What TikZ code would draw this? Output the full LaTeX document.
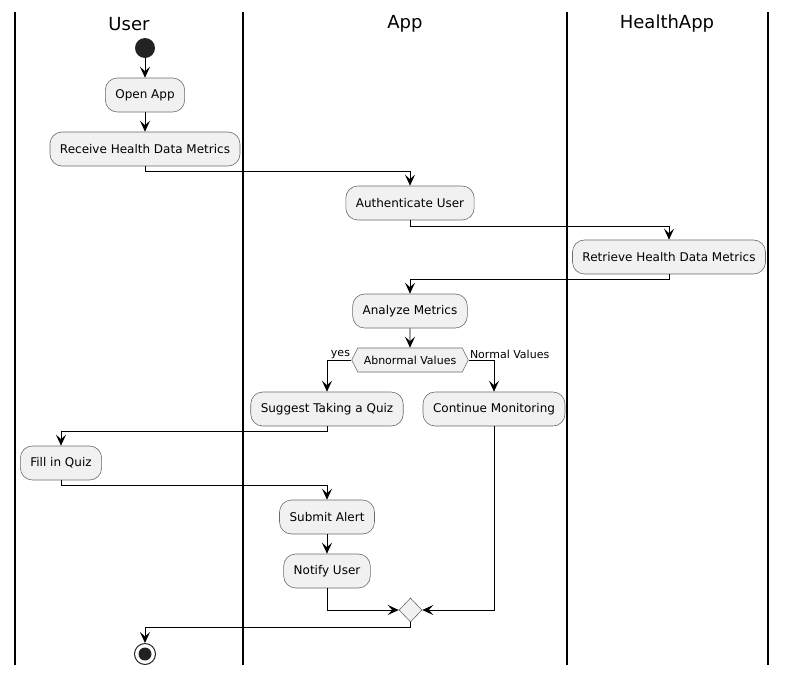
\documentclass[tikz,border=0pt]{standalone}
\usepackage{fontspec}
\setmainfont{DejaVu Sans}
\usetikzlibrary{arrows.meta, shapes.geometric, shapes.symbols}

\definecolor{boxfill}{HTML}{F1F1F1}
\definecolor{boxline}{HTML}{6A6A6A}
\definecolor{dotfill}{HTML}{222222}

\begin{document}
\begin{tikzpicture}[x=1pt, y=-1pt,
    activity/.style={rectangle, rounded corners=12pt, draw=boxline, line width=0.6pt, fill=boxfill,
      minimum height=34pt, inner xsep=10pt, font=\fontsize{12}{14}\selectfont},
    decision/.style={signal, signal to=east and west, signal pointer angle=127, draw=boxline, line width=0.6pt,
      fill=boxfill, minimum height=24pt, inner xsep=6pt, inner ysep=0pt, font=\fontsize{11}{13}\selectfont},
    merge/.style={diamond, draw=boxline, line width=0.6pt, fill=boxfill, inner sep=0pt, minimum width=23pt, minimum height=24pt},
    flow/.style={line width=0.9pt, -{Stealth[length=11pt, width=10pt, inset=4.5pt]}},
    lane/.style={line width=1.5pt},
    lanetitle/.style={font=\fontsize{18}{21}\selectfont},
    guard/.style={font=\fontsize{11}{13}\selectfont, inner sep=1pt}]
  \useasboundingbox (0,0) rectangle (787,675);

  % swimlanes
  \draw[lane] (15,12) -- (15,665);
  \draw[lane] (243,12) -- (243,665);
  \draw[lane] (567,12) -- (567,665);
  \draw[lane] (768,12) -- (768,665);
  \node[lanetitle] (usertitle) at (129,24) {User};
  \node[lanetitle] (apptitle) at (405,24) {App};
  \node[lanetitle] (healthtitle) at (667,24) {HealthApp};

  % nodes
  \node[circle, fill=dotfill, minimum size=20pt, inner sep=0pt] (start) at (145,48) {};
  \node[activity] (open) at (145,95) {Open App};
  \node[activity] (receive) at (145,149) {Receive Health Data Metrics};
  \node[activity] (auth) at (410,203) {Authenticate User};
  \node[activity] (retrieve) at (669,257) {Retrieve Health Data Metrics};
  \node[activity] (analyze) at (410,311) {Analyze Metrics};
  \node[decision] (abnormal) at (410,360) {Abnormal Values};
  \node[activity] (suggest) at (327,409) {Suggest Taking a Quiz};
  \node[activity] (monitor) at (494,409) {Continue Monitoring};
  \node[activity] (quiz) at (61,463) {Fill in Quiz};
  \node[activity] (submit) at (327,517) {Submit Alert};
  \node[activity] (notify) at (327,571) {Notify User};
  \node[merge] (join) at (410.5,610) {};
  \node[circle, draw=dotfill, line width=1pt, minimum size=21pt, inner sep=0pt] (stop) at (145,654) {};
  \fill[dotfill] (stop.center) circle (6.5pt);

  % connectors
  \draw[flow] (start) -- (open);
  \draw[flow] (open) -- (receive);
  \draw[flow] (receive.south) -- ++(0,5) -| (auth.north);
  \draw[flow] (auth.south) -- ++(0,6) -| (retrieve.north);
  \draw[flow] (retrieve.south) -- ++(0,5) -| (analyze.north);
  \draw[flow] (analyze) -- (abnormal);
  \draw[flow] (abnormal.west) node[guard, anchor=south east] {yes} -| (suggest.north);
  \draw[flow] (abnormal.east) node[guard, anchor=south west] {Normal Values} -| (monitor.north);
  \draw[flow] (suggest.south) -- ++(0,5) -| (quiz.north);
  \draw[flow] (quiz.south) -- ++(0,5) -| (submit.north);
  \draw[flow] (submit) -- (notify);
  \draw[flow] (notify.south) |- (join.west);
  \draw[flow] (monitor.south) |- (join.east);
  \draw[flow] (join.south) -- ++(0,5) -| (stop.north);
\end{tikzpicture}
\end{document}
